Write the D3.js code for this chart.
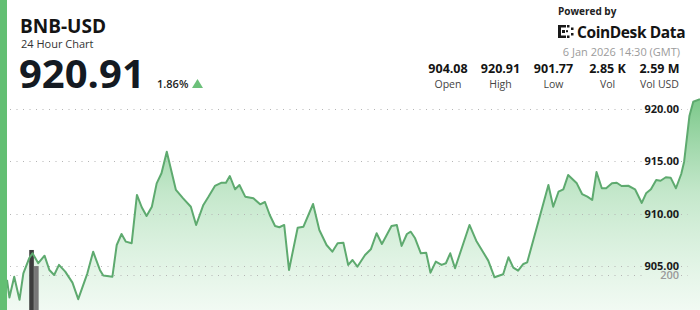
<!DOCTYPE html>
<html>
<head>
<meta charset="utf-8">
<script src="https://cdn.jsdelivr.net/npm/d3@7"></script>
<style>
  body { margin: 0; background: #fff; }
  svg { display: block; font-family: "Open Sans", sans-serif; }
</style>
</head>
<body>
<script>
// price data (minutes since start of the 24h window, price)
var times = [0, 5, 15, 26, 34, 46, 53, 65, 78, 88, 98, 108, 121, 136, 148, 167, 179, 193, 200, 219,
  228, 238, 247, 259, 270, 280, 290, 301, 311, 321, 332, 351, 366, 382, 393, 408, 418, 432, 446, 455,
  463, 474, 483, 495, 512, 526, 536, 546, 557, 566, 576, 586, 604, 616, 636, 649, 664, 676, 687, 699,
  709, 718, 728, 744, 756, 768, 779, 799, 810, 820, 831, 839, 848, 860, 871, 880, 891, 903, 912, 921,
  931, 961, 975, 1000, 1013, 1031, 1042, 1052, 1062, 1073, 1081, 1125, 1135, 1146, 1156, 1166, 1184, 1195, 1206, 1216,
  1225, 1236, 1245, 1257, 1267, 1277, 1291, 1305, 1319, 1328, 1338, 1349, 1358, 1369, 1379, 1390, 1401, 1407, 1418, 1426,
  1440];
var prices = [903.67, 902.00, 903.98, 901.77, 904.30, 905.73, 906.21, 905.26, 905.98, 904.62, 904.14, 905.10, 904.46, 903.41, 901.83, 904.30, 906.36, 904.62, 904.08, 903.98,
  907.00, 908.05, 907.32, 907.16, 911.77, 910.60, 909.77, 910.65, 912.88, 913.84, 915.90, 912.25, 911.45, 910.65, 908.91, 910.82, 911.55, 912.63, 912.94, 912.94,
  913.58, 912.31, 912.72, 911.61, 911.45, 910.88, 911.10, 909.86, 908.81, 908.69, 908.91, 904.62, 908.65, 908.75, 910.91, 908.43, 907.00, 906.36, 907.16, 907.22,
  905.10, 905.57, 904.93, 906.05, 906.59, 908.12, 907.10, 908.81, 908.91, 906.91, 908.05, 908.27, 907.64, 906.21, 906.27, 904.36, 905.41, 905.10, 905.26, 906.21,
  904.78, 908.91, 907.41, 905.51, 903.92, 904.21, 905.83, 904.84, 904.55, 905.19, 905.35, 912.72, 910.65, 912.08, 912.31, 913.67, 912.88, 911.86, 911.61, 911.29,
  913.96, 912.41, 912.41, 912.88, 912.94, 912.63, 912.65, 912.31, 911.01, 911.93, 912.31, 913.20, 913.13, 913.46, 913.42, 912.41, 913.77, 914.94, 919.30, 920.66,
  920.91];

// volume bars
var volTimes = [51, 61];
var volumes = [343, 251];
var volColors = ["#3d3d3d", "#777777"];

// price axis ticks + volume tick
var priceTicks = [905, 910, 915, 920];
var volTicks = [200];

// header
var symbol = "BNB-USD";
var subtitle = "24 Hour Chart";
var lastPrice = "920.91";
var change = "1.86%";
var dateText = "6 Jan 2026 14:30 (GMT)";
var statValues = ["904.08", "920.91", "901.77", "2.85 K", "2.59 M"];
var statLabels = ["Open", "High", "Low", "Vol", "Vol USD"];

// 基本設定
var w = 700;
var h = 310;
var green = "#63bf73";
var lineColor = "#5eaa6f";

var svg = d3.select("body")
  .append("svg")
  .attr("width", w)
  .attr("height", h);

var x = d3.scaleLinear().domain([0, 1440]).range([7, 700]);
var y = d3.scaleLinear().domain([900.8, 921]).range([310, 98.2]);
var yVol = d3.scaleLinear().domain([0, 200]).range([310, 275]);

// gradient for the area
var defs = svg.append("defs");
var grad = defs.append("linearGradient")
  .attr("id", "areaGrad")
  .attr("gradientUnits", "userSpaceOnUse")
  .attr("x1", 0).attr("y1", 98)
  .attr("x2", 0).attr("y2", 310);
grad.append("stop").attr("offset", "0%").attr("stop-color", "#56b868").attr("stop-opacity", 0.78);
grad.append("stop").attr("offset", "45%").attr("stop-color", "#6cc47d").attr("stop-opacity", 0.4);
grad.append("stop").attr("offset", "100%").attr("stop-color", "#8bd49a").attr("stop-opacity", 0.12);

var data = times.map(function(t, i) { return {t: t, p: prices[i]}; });

// area
svg.append("path")
  .datum(data)
  .attr("d", d3.area()
    .x(function(d) { return x(d.t); })
    .y0(h)
    .y1(function(d) { return y(d.p); }))
  .attr("fill", "url(#areaGrad)");

// gridlines (dotted), broken where the label sits
function gridline(yy) {
  [[10, 642], [681, 688]].forEach(function(seg) {
    svg.append("line")
      .attr("x1", seg[0]).attr("x2", seg[1])
      .attr("y1", yy).attr("y2", yy)
      .attr("stroke", "#b5b5b5")
      .attr("stroke-width", 1)
      .attr("stroke-dasharray", "1,5.5");
  });
}

priceTicks.forEach(function(v) {
  gridline(Math.round(y(v)) + 0.5);
  svg.append("text")
    .attr("x", 679)
    .attr("y", y(v) + 4)
    .attr("text-anchor", "end")
    .attr("font-size", "11px")
    .attr("font-weight", 700)
    .attr("fill", "#1a1a1a")
    .text(d3.format(".2f")(v));
});

volTicks.forEach(function(v) {
  gridline(Math.round(yVol(v)) + 0.5);
  svg.append("text")
    .attr("x", 679)
    .attr("y", yVol(v) + 4)
    .attr("text-anchor", "end")
    .attr("font-size", "11px")
    .attr("font-weight", 600)
    .attr("fill", "#9a9a9a")
    .text(v);
});

// volume bars
svg.selectAll("rect.vol")
  .data(volumes)
  .enter()
  .append("rect")
  .attr("class", "vol")
  .attr("x", function(d, i) { return x(volTimes[i]) - 2.3; })
  .attr("y", function(d) { return yVol(d); })
  .attr("width", 4.6)
  .attr("height", function(d) { return h - yVol(d); })
  .attr("fill", function(d, i) { return volColors[i]; });

// price line
svg.append("path")
  .datum(data)
  .attr("d", d3.line()
    .x(function(d) { return x(d.t); })
    .y(function(d) { return y(d.p); }))
  .attr("fill", "none")
  .attr("stroke", lineColor)
  .attr("stroke-width", 2)
  .attr("stroke-linejoin", "round");

// left green bar
svg.append("rect")
  .attr("x", 0).attr("y", 0)
  .attr("width", 7).attr("height", h)
  .attr("fill", green);

// header left
svg.append("text")
  .attr("x", 20).attr("y", 33)
  .attr("font-size", "19px").attr("font-weight", 700)
  .attr("fill", "#141414")
  .text(symbol);
svg.append("text")
  .attr("x", 21).attr("y", 47.5)
  .attr("font-size", "11px")
  .attr("fill", "#333")
  .text(subtitle);
svg.append("text")
  .attr("x", 19).attr("y", 88)
  .attr("font-size", "40px").attr("font-weight", 700)
  .attr("fill", "#141a22")
  .text(lastPrice);
svg.append("text")
  .attr("x", 157).attr("y", 88)
  .attr("font-size", "11px").attr("font-weight", 600)
  .attr("fill", "#222")
  .text(change);
svg.append("path")
  .attr("d", "M192,88 L203,88 L197.5,79 Z")
  .attr("fill", "#6cc07a");

// header right
svg.append("text")
  .attr("x", 558).attr("y", 15)
  .attr("font-size", "10px").attr("font-weight", 700)
  .attr("fill", "#222")
  .text("Powered by");

// logo mark
var logo = svg.append("g").attr("fill", "#1a1a1a");
[[558, 25, 3, 13], [561, 25, 5, 2.5], [561, 35.5, 5, 2.5], [562, 30, 3, 3], [567, 25, 2.5, 2.5],
 [567, 35.5, 2.5, 2.5], [571, 27.5, 2.5, 2.5], [571, 33, 2.5, 2.5], [566, 30.2, 2, 2]]
  .forEach(function(r) {
    logo.append("rect").attr("x", r[0]).attr("y", r[1]).attr("width", r[2]).attr("height", r[3]);
  });
svg.append("text")
  .attr("x", 577).attr("y", 38)
  .attr("font-size", "15.5px").attr("font-weight", 700)
  .attr("letter-spacing", "-0.4px")
  .attr("fill", "#141414")
  .text("CoinDesk Data");

svg.append("text")
  .attr("x", 680).attr("y", 56)
  .attr("text-anchor", "end")
  .attr("font-size", "11px")
  .attr("fill", "#9b9b9b")
  .text(dateText);

var statX = [448, 500.5, 553.5, 607.5, 659.5];
statValues.forEach(function(v, i) {
  svg.append("text")
    .attr("x", statX[i]).attr("y", 73)
    .attr("text-anchor", "middle")
    .attr("font-size", "12.5px").attr("font-weight", 700)
    .attr("fill", "#141414")
    .text(v);
  svg.append("text")
    .attr("x", statX[i]).attr("y", 87.5)
    .attr("text-anchor", "middle")
    .attr("font-size", "10.5px")
    .attr("fill", "#444")
    .text(statLabels[i]);
});
</script>
</body>
</html>
